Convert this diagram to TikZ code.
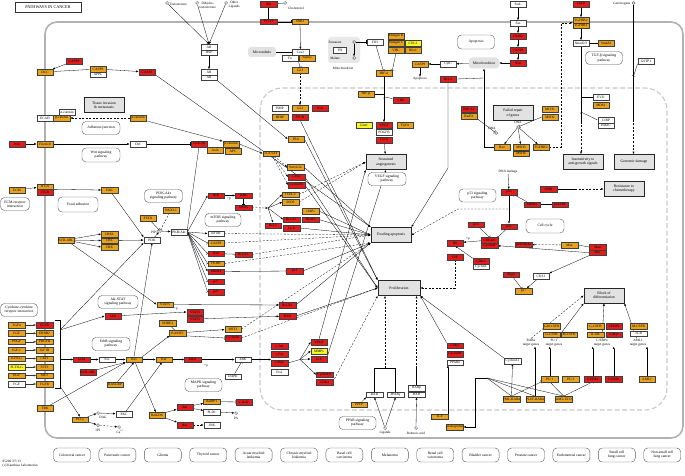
\documentclass[tikz,border=0pt]{standalone}
\usepackage{fontspec}
\setmainfont{Liberation Serif}
\usetikzlibrary{arrows.meta, positioning, calc, backgrounds}
\definecolor{KeggRed}{RGB}{226,28,28}
\definecolor{KeggOrange}{RGB}{232,162,30}
\definecolor{KeggYellow}{RGB}{248,246,40}
\definecolor{CellGrey}{RGB}{178,178,178}
\definecolor{NucGrey}{RGB}{200,200,200}
\definecolor{BoxGrey}{RGB}{226,226,226}

\begin{document}
\begin{tikzpicture}[x=1pt, y=-1pt,
        gene/.style={draw=black!75, line width=0.3pt, minimum width=16.5pt, minimum height=5.4pt, inner sep=0pt, font=\fontsize{3.5}{3.8}\selectfont},
        gr/.style={gene, fill=KeggRed},
        go/.style={gene, fill=KeggOrange},
        gy/.style={gene, fill=KeggYellow},
        gw/.style={gene, fill=white},
        pheno/.style={draw=black!85, line width=0.9pt, fill=BoxGrey, minimum width=40pt, minimum height=15pt, inner sep=0pt, align=center, font=\fontsize{3.8}{4.3}\selectfont},
        pmap/.style={draw=black!65, line width=0.4pt, fill=white, rounded corners=4pt, minimum width=38pt, minimum height=13pt, inner sep=0pt, align=center, font=\fontsize{3.7}{4.2}\selectfont},
        organelle/.style={fill=BoxGrey, rounded corners=3pt, inner sep=0pt, font=\fontsize{3.7}{4.2}\selectfont},
        cpd/.style={circle, draw=black!80, line width=0.35pt, fill=white, inner sep=0pt, minimum size=3pt},
        lbl/.style={inner sep=0.5pt, align=center, font=\fontsize{3.4}{3.8}\selectfont},
        act/.style={-{Latex[length=2.4pt,width=2pt]}, line width=0.3pt},
        inh/.style={-{Bar[width=3.5pt]}, line width=0.3pt},
        dact/.style={act, dash pattern=on 2pt off 1.5pt},
        link/.style={line width=0.3pt}
    ]
    \useasboundingbox (0,0) rectangle (685,476);
    \begin{scope}[on background layer]
        \draw[CellGrey, line width=1.6pt, rounded corners=12pt] (45,22) rectangle (683,438);
        \draw[NucGrey, line width=1.1pt, dash pattern=on 5pt off 2.5pt, rounded corners=22pt] (260,88) rectangle (667,410);
        \node[organelle, fill=BoxGrey!80, minimum width=32pt, minimum height=26pt] (mitoa) at (344,50) {};
    \end{scope}

    \node[draw=black!80, line width=0.8pt, minimum width=66pt, minimum height=9.5pt, inner sep=0pt, font=\fontsize{4.2}{4.7}\selectfont] (title) at (48,7.5) {PATHWAYS IN CANCER};
    \node[lbl, align=left, anchor=north west] (copyr) at (2,460) {05200 3/7/13\\(c) Kanehisa Laboratories};

    \node[cpd] (testo) at (167,3) {};
    \node[lbl, anchor=west] (testolbl) at (169,4.5) {Testosterone};
    \node[cpd] (dht) at (197,3) {};
    \node[lbl, anchor=west] (dhtlbl) at (199,5) {Dihydro-\\testosterone};
    \node[cpd] (oligand) at (226,3) {};
    \node[lbl, anchor=west] (oliglbl) at (228,5) {Other\\Ligands};
    \node[gw] (arhsp) at (209,47) {AR};
    \node[gw, below=0pt of arhsp] (hsp) {HSP};
    \node[gw] (arda) at (209,72) {AR};
    \node[gw, below=0pt of arda] (ardb) {AR};

    \node[go] (dcc) at (45,72) {DCC};
    \node[gr] (casp9a) at (74,61) {CASP9};
    \node[go] (dccp) at (98,69) {CASP9};
    \node[gw, below=0pt of dccp] (appl) {APPL};
    \node[gr] (casp3) at (147,72) {CASP3};
    \node[pheno] (invasion) at (104,105) {Tissue invasion\\\& metastasis};
    \node[gw] (acat) at (67,112) {α-catenin};
    \node[gw] (ecad) at (45,118) {ECAD};
    \node[go, right=0pt of ecad] (bcata) {β-catenin};
    \node[go] (bcatb) at (138,118) {β-catenin};
    \node[pmap] (adherens) at (101,128) {Adherens junction};
    \node[gr] (wnt) at (17,144) {Wnt};
    \node[go] (fzd) at (45,144) {Frizzled};
    \node[gw] (dvl) at (138,144) {Dvl};
    \node[pmap, minimum height=14pt] (wntpath) at (101,155) {Wnt signaling\\pathway};
    \node[gr] (gsk) at (199,144) {GSK-3β};
    \node[go] (axin) at (215,150) {Axin};
    \node[go] (bcatc) at (231,144) {β-catenin};
    \node[go] (apc) at (233,151) {APC};

    \node[go] (ecm) at (17,190) {ECM};
    \node[go] (itga) at (45,186.5) {ITGA};
    \node[gr, below=0pt of itga] (itgb) {ITGB};
    \node[go] (fak) at (109.5,190) {FAK};
    \node[pmap, minimum width=29pt] (ecmrec) at (15,204) {ECM-receptor\\interaction};
    \node[pmap, minimum width=40pt, minimum height=15pt] (focal) at (78,204.5) {Focal adhesion};
    \node[pmap] (pi3kpath) at (163.5,196) {PI3K-Akt\\signaling pathway};
    \node[go] (pten) at (148,218) {PTEN};
    \node[go] (nkx) at (171,210) {NKX3.1};
    \node[cpd] (pip3) at (160,231) {};
    \node[lbl, anchor=east] (pip3lbl) at (158.5,232) {PIP3};
    \node[gw] (pi3k) at (152,240) {PI3K};
    \node[go] (crkl) at (109.5,234) {CRKL};
    \node[go] (cbl) at (109.5,240.5) {CBL};
    \node[go] (crk) at (109.5,247) {CRK};
    \node[go] (bcrabl) at (66,240) {BCR-ABL};
    \node[gw] (akt) at (179,232) {PKB/Akt};
    \node[pmap, minimum width=36pt] (mtorpath) at (223,220) {mTOR signaling\\pathway};
    \node[gr] (ikk) at (216,195.5) {IKK};
    \node[gw] (mtor) at (216,233.5) {mTOR};
    \node[go] (casp9c) at (216,243) {CASP9};
    \node[gr] (bad) at (216,253.5) {Bad};
    \node[go] (fkhr) at (216,263.5) {FKHR};
    \node[gr] (mdm2a) at (216,271.5) {MDM2};
    \node[gr] (p27a) at (216,281.5) {p27};
    \node[gr] (p21a) at (216,292) {p21};
    \node[gr] (ikba) at (243.5,195.5) {IκBα};
    \node[gr] (nfkb) at (243.5,207.5) {NFκB};
    \node[gr] (bclxla) at (243.5,254.5) {Bcl-XL};

    \node[pmap, minimum width=40pt] (jakpath) at (118,302) {Jak-STAT\\signaling pathway};
    \node[go] (stat5a) at (165,304.5) {STAT5};
    \node[gr] (jak) at (113,316) {JAK};
    \node[gr] (stat3) at (195,312) {STAT3};
    \node[gr] (stat5b) at (195,319) {STAT5};
    \node[pmap, minimum width=37pt] (cytokine) at (19,310) {Cytokine-cytokine\\receptor interaction};
    \foreach \lig/\lc/\rec/\rc/\yy [count=\i] in {TGFα/KeggOrange/EGFR/KeggRed/325, EGF/KeggOrange/ERBB2/KeggOrange/333.3, PDGF/KeggOrange/PDGFR/KeggOrange/341.7, IGF-1/KeggOrange/IGF1R/KeggOrange/350, KITLG/KeggOrange/c-KIT/KeggOrange/358.5, FLT3LG/KeggYellow/FLT3/KeggOrange/367, HGF/KeggOrange/MET/KeggOrange/375.5, FGF/white/FGFR/KeggOrange/384} {
        \node[gene, fill=\lc] (lig\i) at (16.7,\yy) {\lig};
        \node[gene, fill=\rc] (rec\i) at (44.5,\yy) {\rec};
        \draw[act, black!80] (lig\i) -- (rec\i);
    }
    \node[gr] (grb2) at (81.7,359.5) {Grb2};
    \node[gw] (sos) at (107,359.5) {Sos};
    \node[go] (ras) at (134,359.5) {Ras};
    \node[go] (raf) at (164,359.5) {Raf};
    \node[gr] (mek) at (192.7,359.5) {MEK};
    \node[pmap] (erbbpath) at (111,344) {ErbB signaling\\pathway};
    \node[go] (nore1) at (167.7,323.3) {NORE1};
    \node[go] (rassf1) at (177.7,333) {RASSF1};
    \node[go] (mst1) at (233,329) {MST1};
    \node[gr] (cycd1c) at (233,338) {CyclinD1};
    \node[gr] (bcrabl2) at (88,372) {BCR-ABL};
    \node[go] (rasgrp) at (115,384.5) {RASGRP};
    \node[go] (trk) at (45,408) {TRK};
    \node[go] (plcg) at (80,419.5) {PLCγ};
    \node[cpd] (dag) at (98,413) {};
    \node[lbl] (daglbl) at (103,417.5) {DAG};
    \node[cpd] (ip3) at (98,425) {};
    \node[lbl] (ip3lbl) at (98,430) {IP3};
    \node[gw] (pkc) at (124,414) {PKC};
    \node[cpd] (ca) at (119,427) {};
    \node[lbl] (calbl) at (120,432) {Ca\textsuperscript{2+}};
    \node[pmap, minimum width=37pt] (mapkpath) at (203.5,385) {MAPK signaling\\pathway};
    \node[go] (ralgds) at (157,415) {RalGDS};
    \node[gr] (ral) at (185,407) {Ral};
    \node[go] (ralbp1) at (211.7,401.7) {RalBP1};
    \node[gw] (pld1) at (211.7,412) {PLD1};
    \node[gr] (rac) at (185,425) {Rac};
    \node[gw] (jnk) at (212,425) {JNK};
    \node[gr] (cdc42) at (244,402) {Cdc42};
    \node[cpd] (pa) at (236,413) {};
    \node[lbl] (palbl) at (236,418) {PA};
    \node[gw] (erk) at (243,359.5) {ERK};
    \node[gw] (dapk) at (233,376.5) {DAPK};

    \node[gr] (bclxlb) at (287.5,305) {Bcl-XL};
    \node[gr] (pim1) at (287.5,316) {PIM1};
    \node[gr] (tx1) at (279.5,346) {c-Jun};
    \node[gr] (tx2) at (279.5,354) {c-Fos};
    \node[gr] (tx3) at (279.5,363) {c-Myc};
    \node[gw] (tx4) at (279.5,372) {Ets1};
    \node[gr] (vegfb) at (319,342) {VEGF};
    \node[gy] (mmps) at (319,351) {MMPs};
    \node[gr] (il8) at (319,359) {IL8};
    \node[gr] (cycd1d) at (324.5,374.7) {CyclinD1};
    \node[gr] (cdk4b) at (324.5,382) {CDK4};

    \node[go] (ppfp) at (359,404.5) {PPFP};
    \node[gw] (rxra) at (374.5,394.5) {RXR};
    \node[gw] (pparg) at (395.5,394.5) {PPARγ};
    \node[pmap, minimum width=37pt] (pparpath) at (357.5,423) {PPAR signaling\\pathway};
    \node[cpd] (ligands) at (385,428) {};
    \node[lbl] (ligandslbl) at (385,433) {Ligands};
    \node[gw] (rarb) at (416.5,388) {RARβ};
    \node[gw] (rxrb) at (416.5,394.5) {RXR};
    \node[cpd] (retacid) at (416,428) {};
    \node[lbl] (retacidlbl) at (416,433) {Retinoic acid};
    \node[go] (tcf2) at (439.5,416.5) {TCF};
    \node[go] (plako) at (455,427) {plakoglobin};
    \node[gr] (cmycc) at (455,345.5) {c-Myc};
    \node[gr] (cycd1e) at (455,354) {CyclinD1};
    \node[gw] (ppard) at (455,362.5) {PPARδ};

    \node[gw] (cyca1) at (512.5,361) {CyclinA1};
    \node[go] (pmlrar) at (511.5,399) {PML-RARα};
    \node[go] (plzfrar) at (535,399) {PLZF-RARα};
    \node[go] (amleto) at (563.7,399) {AML-ETO};
    \node[go] (pu1a) at (549.7,379) {PU.1};
    \node[go] (pu1b) at (570.7,379) {PU.1};
    \node[gr] (cebpa) at (592.7,379) {C/EBPα};
    \node[gr] (cebpb) at (613.7,379) {C/EBPα};
    \node[go] (aml1) at (647,379) {AML1};
    \node[go] (gmcsfr) at (551.7,326) {GM-CSFR};
    \node[go] (gcsfr) at (551.7,334.5) {G-CSFR};
    \node[go] (mcsfr) at (569,334.5) {M-CSFR};
    \node[go] (gcsfrb) at (595.5,326) {G-CSFR};
    \node[gr] (cebpe) at (614.3,326) {CEBPE};
    \node[go] (il6r) at (595.5,334.5) {IL-6R};
    \node[gr] (cmycd) at (614.3,334.5) {c-Myc};
    \node[go] (mcsfrb) at (638.5,326) {M-CSFR};
    \node[gw] (tcr) at (638.5,333.7) {TCR};
    \node[lbl] (rarlbl) at (531,342.5) {RARα\\target genes};
    \node[lbl] (pu1lbl) at (554,342.5) {PU.1\\target genes};
    \node[lbl] (cebplbl) at (602,342.5) {C/EBPα\\target genes};
    \node[lbl] (aml1lbl) at (638,342.5) {AML1\\target genes};
    \node[pheno] (block) at (604,295.5) {Block of\\differentiation};

    \node[lbl] (dnadmg) at (508,172) {DNA damage};
    \node[gr] (p53b) at (509,192) {p53};
    \node[gr] (mdm2b) at (532,204.5) {MDM2};
    \node[gr] (p14arf) at (560,204.5) {p14ARF};
    \node[gr] (mdr) at (548.5,189) {MDR};
    \node[pheno] (resist) at (624,189) {Resistance to\\chemotherapy};
    \node[pmap, minimum width=37pt] (p53path) at (477.5,195.5) {p53 signaling\\pathway};
    \node[gr] (p21b) at (509,226.5) {p21};
    \node[gr] (p15) at (476,224.5) {p15};
    \node[gr] (cdk46) at (489.5,240) {CDK4/6};
    \node[gr, below=0pt of cdk46] (cycd) {CyclinD};
    \node[pmap, minimum height=14pt] (cellcycle) at (545,226) {Cell cycle};
    \node[gr] (p16) at (523.5,244.5) {p16INK4a};
    \node[go] (max) at (569.5,245) {Max};
    \node[gr] (mad) at (597.5,247) {Mad};
    \node[gr, below=0pt of mad] (mxi) {Mxi};
    \node[gr] (cdk2) at (481,261) {CDK2};
    \node[gw, below=0pt of cdk2] (cyce) {CyclinE};
    \node[gr] (skp2) at (511,274.5) {Skp2};
    \node[gw] (cks1) at (541,276) {CKS1};
    \node[go] (p27b) at (523.5,291) {p27};
    \node[gr] (rb) at (455,243) {Rb};
    \node[gr] (e2f) at (455,257) {E2F};

    \node[gr] (shh) at (268.5,4) {Shh};
    \node[cpd] (chol) at (285,3) {};
    \node[lbl] (chollbl) at (296,8) {Cholesterol};
    \node[gr] (ptch) at (268.5,21.7) {PTCH};
    \node[go] (smo) at (300,21.7) {SMO};
    \node[organelle, minimum width=28pt, minimum height=10pt] (microtub) at (262,52) {Microtubule};
    \node[gw] (cos2) at (300.5,52) {Cos2};
    \node[gw] (fu) at (290,58) {Fu};
    \node[go] (sufu) at (307,58) {Su(fu)};
    \node[go] (gli) at (300,70) {GLI};
    \node[gw] (bmp) at (280,108) {BMP};
    \node[go] (glib) at (300,108) {GLI};
    \node[gr] (wnt2) at (320,108) {Wnt};
    \node[go] (hhip) at (280,117) {HHIP};
    \node[gr] (ptch2) at (300,117) {PTCH};

    \node[lbl] (fumlbl) at (335,42) {Fumarate};
    \node[cpd] (fum) at (354,42) {};
    \node[gw, minimum width=13pt] (fh) at (340,50) {FH};
    \node[lbl] (mallbl) at (335,58) {Malate};
    \node[cpd] (mal) at (354,58) {};
    \node[lbl] (mitoalbl) at (343,68) {Mitochondrion};
    \node[gw] (fih) at (375,42) {FIH};
    \node[go] (elob) at (396,36) {Elongin B};
    \node[go] (eloc) at (396,43) {Elongin C};
    \node[go] (vhl) at (396,50) {VHL};
    \node[gy] (cul2) at (413,43) {CUL2};
    \node[go] (rbx1) at (413,50) {Rbx1};
    \node[go] (hif) at (384,73) {HIF-α};
    \node[go] (hifb) at (366,94) {HIF-β};
    \node[gr] (cbp) at (401,100) {CBP};
    \node[gy] (glut1) at (364,125) {Glut1};
    \node[gr] (vegfa) at (384,125) {VEGF};
    \node[go] (tgfa) at (405,125) {TGFα};
    \node[gw] (pdgfb) at (384,132) {PDGFB};
    \node[gr] (tgfba) at (384,140) {TGFβ};

    \node[go] (casp9b) at (420,64) {CASP9};
    \node[gw] (cytc) at (448,64) {CytC};
    \node[lbl] (apoptlbl) at (420,79) {Apoptosis};
    \node[gr] (bcl2a) at (448,79) {Bcl-2};
    \node[organelle, minimum width=30pt, minimum height=11pt] (mito2) at (484,63) {Mitochondrion};
    \node[pmap, minimum width=37pt, minimum height=14pt] (apoptosis) at (476,42) {Apoptosis};
    \node[gw] (fasl) at (518,4) {FasL};
    \node[gw] (fas) at (518,23) {Fas};
    \node[gr] (fadd) at (518,36) {FADD};
    \node[gr] (casp8) at (518,50) {CASP8};
    \node[gr] (bid) at (518,63) {Bid};

    \node[gr] (tgfb2) at (581,4) {TGFβ};
    \node[go] (tgfbr2) at (581,20) {TGFBR2};
    \node[go, below=0pt of tgfbr2] (tgfbr1) {TGFBR1};
    \node[gw] (smad23) at (581,43) {Smad2/3};
    \node[go] (smad4) at (606,43) {Smad4};
    \node[pmap, minimum width=37pt] (tgfpmap) at (604,58) {TGF-β signaling\\pathway};
    \node[lbl, anchor=east] (carclbl) at (631,3.5) {Carcinogens};
    \node[cpd] (carc) at (633.5,3) {};
    \node[gw] (gstp1) at (646,61) {GSTP1};
    \node[gw] (evi1) at (601,97) {EVI1};
    \node[go] (mds1) at (601,105) {MDS1};
    \node[gw] (ctbp) at (606,120) {CtBP};
    \node[gw, below=0pt of ctbp] (hdac) {HDAC};

    \node[gr] (brca2) at (469,109) {BRCA2};
    \node[go] (rad51) at (469,116) {Rad51};
    \node[pheno] (failed) at (513,113) {Failed repair\\of genes};
    \node[go] (mlh1) at (550,109) {MLH1};
    \node[go] (msh2) at (550,117) {MSH2};
    \node[cpd] (dna1) at (496,133) {};
    \node[lbl] (dna1lbl) at (492,128.5) {DNA};
    \node[cpd] (dna2) at (518,127) {};
    \node[lbl] (dna2lbl) at (518,122.5) {DNA};
    \node[go] (bax) at (502,147) {Bax};
    \node[go] (msh3) at (521,147) {MSH3};
    \node[go] (tgfbr2b) at (541,147) {TGFBR2};
    \node[go] (msh6) at (521,153.5) {MSH6};

    \node[pheno] (insens) at (583,162) {Insensitivity to\\anti-growth signals};
    \node[pheno] (genomic) at (634,162) {Genomic damage};
    \node[pheno] (angio) at (386,162) {Sustained\\angiogenesis};
    \node[pmap] (vegfpath) at (387,179) {VEGF signaling\\pathway};
    \node[pheno] (evade) at (391,235) {Evading apoptosis};
    \node[pheno, minimum width=42pt] (prolif) at (399,288) {Proliferation};

    \node[go] (psa) at (296,139) {PSA};
    \node[go] (tcflef) at (271,153.5) {TCF/LEF};
    \node[go] (survivin) at (295.5,167) {Survivin};
    \node[gr] (cmyca) at (296.5,177) {c-Myc};
    \node[gr] (cycd1a) at (296.5,185) {CyclinD1};
    \node[go] (cox2) at (290.5,194.5) {COX-2};
    \node[go] (inos) at (290.5,202) {iNOS};
    \node[go] (ciaps) at (310.5,211) {cIAPs};
    \node[gr] (bclxlc) at (291.5,219.5) {Bcl-XL};
    \node[gr] (trafs) at (310.5,219.5) {TRAFs};
    \node[gr] (bcl2b) at (273,225.5) {Bcl-2};
    \node[gr] (il8b) at (291.5,228) {IL-8};
    \node[gr] (p53a) at (294.5,271) {p53};

    \foreach \nm [count=\i from 0] in {Colorectal cancer, Pancreatic cancer, Glioma, Thyroid cancer, {Acute myeloid\\leukemia}, {Chronic myeloid\\leukemia}, {Basal cell\\carcinoma}, Melanoma, {Renal cell\\carcinoma}, Bladder cancer, Prostate cancer, Endometrial cancer, {Small cell\\lung cancer}, {Non-small cell\\lung cancer}} {
        \node[pmap, minimum width=37pt, minimum height=14pt] (cancer\i) at ({72+45.4*\i},455) {\nm};
    }

    \node[lbl] (plus1) at (229,199) {+p};
    \node[lbl] (plus2) at (176,309) {+p};
    \node[lbl] (plus3) at (206,366) {+p};
    \node[lbl] (plus4) at (468,239) {+p};

    \coordinate (brkt) at (60,330);
    \coordinate (brk) at (60,359.5);
    \coordinate (brkb) at (60,386);
    \coordinate (nfkbj) at (268,208);
    \coordinate (apj) at (300,359.5);
    \coordinate (pparj) at (385,368);
    \coordinate (rarj) at (416.5,368);
    \coordinate (plkj) at (487,378);
    \coordinate (smadj) at (581,122);
    \coordinate (evij) at (581,97);
    \coordinate (ctbj) at (581,112);
    \coordinate (carcj) at (633.5,120);
    \coordinate (gstj) at (633.5,76);
    \coordinate (baxj) at (484,78);
    \coordinate (bcl2j) at (448,168);
    \coordinate (tgfdash) at (561,147);
    \coordinate (p53dj) at (508,209);
    \coordinate (p53dk) at (458,209);
    \coordinate (mdrj) at (575,189);
    \coordinate (hifj) at (384,97);

    \begin{scope}[on background layer, black!78]
        \draw[link] (55,320) -- (60,320) -- (60,388) -- (55,388);
        \draw[act] (testo) -- (arhsp.north);
        \draw[act] (dht) -- (arhsp.north);
        \draw[act] (oligand) -- (arhsp.north);
        \draw[act] (hsp) -- (arda);
        \draw[act] (ardb.south east) -- (psa.west);
        \draw[act] (casp9a) -- (dcc);
        \draw[link] (dcc) -- (dccp);
        \draw[act] (dccp) -- (casp3);
        \draw[act] (casp3.south east) -- (evade.north west);
        \draw[dact] (bcatb) -- (bcata);
        \draw[act] (bcatb.south east) -- (bcatc.north west);
        \draw[act] (wnt) -- (fzd);
        \draw[act] (fzd) -- (dvl);
        \draw[inh] (dvl) -- (gsk);
        \draw[act] (bcatc.east) -- (tcflef.west);
        \draw[inh] (akt.north east) -- (gsk.south);

        \draw[inh] (shh) -- (ptch);
        \draw[link] (chol) -- (shh);
        \draw[inh] (ptch) -- (smo);
        \draw[act] (smo) -- (cos2);
        \draw[inh] (microtub) -- (cos2);
        \draw[inh] (fu.south east) -- (gli.north);
        \draw[dact] (gli) -- (glib);
        \draw[act] (ptch2.south) -- (prolif.north west);

        \draw[inh] (fum) -- (fih);
        \draw[act] (fum) -- (mal);
        \draw[inh] (fih) -- (hif);
        \draw[inh] (vhl.south) -- (hif.north east);
        \draw[act] (hif) -- (vegfa);
        \draw[link] (hifb) -- (hifb -| hif);
        \draw[inh] (cbp) -- (hifj);
        \draw[act] (tgfba) -- (angio);

        \draw[act] (fasl) -- (fas);
        \draw[act] (fas) -- (fadd);
        \draw[act] (fadd) -- (casp8);
        \draw[act] (casp8) -- (bid);
        \draw[act] (bid) -- (mito2);
        \draw[act] (mito2) -- (cytc);
        \draw[act] (cytc) -- (casp9b);
        \draw[act] (casp9b) -- (apoptlbl);
        \draw[act] (bax.west) -| (mito2.south);
        \draw[inh] (baxj) -- (bcl2a.east);
        \draw[act] (bcl2a.south) -- (bcl2j) -- (evade.north east);

        \draw[act] (tgfb2) -- (tgfbr2);
        \draw[act] (tgfbr1) -- (smad23);
        \draw[link] (smad4) -- (smad23);
        \draw[link] (smad23) -- (smadj);
        \draw[dact] (smadj) -- (insens.north -| smadj);
        \draw[inh] (evi1) -- (evij);
        \draw[inh] (ctbp.west) -- (ctbj);
        \draw[dact] (tgfbr2b.east) -- (tgfdash) |- (tgfbr2.south west);
        \draw[link] (carc) -- (carcj);
        \draw[dact] (carcj) -- (genomic.north -| carcj);
        \draw[inh] (gstp1.south west) -- (gstj);

        \draw[inh] (rad51.south east) -- (dna1);
        \draw[inh] (msh2.west) -- (dna2);
        \draw[act] (dna2) -- (bax);
        \draw[act] (dna2) -- (msh3);
        \draw[act] (dna2) -- (tgfbr2b);

        \draw[act] (dnadmg) -- (p53b);
        \draw[inh] (mdm2b) -- (p53b);
        \draw[inh] (p14arf) -- (mdm2b);
        \draw[act] (p53b) -- (p21b);
        \draw[link] (mdr) -- (mdrj);
        \draw[dact] (mdrj) -- (resist);
        \draw[inh] (p21b) -- (cdk46.north east);
        \draw[inh] (p15) -- (cdk46.north);
        \draw[act] (cdk46) -- (rb);
        \draw[act] (cdk2.north west) -- (rb.south);
        \draw[dact] (max) -- (p16);
        \draw[inh] (mad.west) -- (max.east);
        \draw[act] (mxi.west) -- (cycd.east);
        \draw[act] (mxi.south west) -- (cks1.north east);
        \draw[inh] (skp2) -- (p27b);
        \draw[act] (cks1) -- (p27b);
        \draw[dact] (p53dj) -- (p53dk) -- (evade.east);
        \draw[dact] (e2f.south) |- (prolif.east);

        \draw[act] (pu1a.north) -- (pu1a.north |- pu1lbl.south);
        \draw[act] (cebpa.north) -- (cebpa.north |- cebplbl.south);
        \draw[act] (cebpb.north) -- (cebpb.north |- cebplbl.south);
        \draw[act] (aml1.north) -- (aml1.north |- aml1lbl.south);
        \draw[act] (plzfrar.north) -- (plzfrar.north |- rarlbl.south);
        \draw[act] (pu1lbl) -- (block.south west);
        \draw[act] (cebplbl) -- (block.south);
        \draw[act] (aml1lbl) -- (block.south east);
        \draw[dact] (rarlbl.north) -- (block.west);
        \draw[inh] (amleto.north) -- (pu1a.south);
        \draw[inh] (amleto.north) -- (cebpa.south);
        \draw[inh] (pmlrar.north) -- (pu1a.south west);
        \draw[act] (pmlrar.north) -- (cyca1.south);
        \draw[act] (cyca1.north west) -- (prolif.south east);
        \draw[link] (plkj) -- (pmlrar.north);
        \draw[link] (plkj) -- (plzfrar.north);
        \draw[link] (plkj) -- (amleto.north);
        \draw[act] (plkj) -- (475,378) -- (475,427) -- (plako.east);
        \draw[act] (tcf2.north east) -- (tcf2.north east |- ppard.south);
        \draw[act] (cmycc.north west) -- (prolif.south east);

        \draw[act] (ligands) -- (rxra.south);
        \draw[act] (ligands) -- (pparg.south);
        \draw[act] (ppfp) -- (rxra.south west);
        \draw[link] (rxra.north) |- (pparj);
        \draw[link] (pparg.north) |- (pparj);
        \draw[dact] (pparj) -- (prolif.south -| pparj);
        \draw[act] (retacid) -- (rxrb.south);
        \draw[link] (rarb.north) -- (rarj);
        \draw[dact] (rarj) -- (prolif.south -| rarj);

        \draw[act] (brk) -- (grb2);
        \draw[act] (grb2) -- (sos);
        \draw[act] (sos) -- (ras);
        \draw[act] (ras) -- (raf);
        \draw[act] (raf) -- (mek);
        \draw[act] (mek) -- (erk);
        \draw[act] (ras.north) -- (pi3k.south);
        \draw[act] (brkt) -- (pi3k.south west);
        \draw[act] (brkt) -- (jak.west);
        \draw[act] (brkb) -- (plcg.north);
        \draw[act] (jak) -- (stat3.west);
        \draw[act] (bcrabl) -- (stat5a.west);
        \draw[act] (bcrabl) -- (crkl.west);
        \draw[act] (bcrabl) -- (cbl.west);
        \draw[act] (bcrabl) -- (crk.west);
        \draw[act] (cbl) -- (pi3k);
        \draw[act] (ecm) -- (itga);
        \draw[act] (itgb.north east) -- (fak.west);
        \draw[act] (fak) -- (pi3k.north west);
        \draw[inh] (pten) -- (pip3);
        \draw[act] (pi3k) -- (pip3);
        \draw[act] (pip3) -- (akt);
        \draw[inh, dash pattern=on 2pt off 1.5pt] (nkx) -- (pip3);
        \foreach \t in {ikk, mtor, mdm2a} \draw[act] (akt.east) -- (\t.west);
        \foreach \t in {casp9c, bad, fkhr, p27a, p21a} \draw[inh] (akt.east) -- (\t.west);
        \draw[act] (ikk) -- (ikba);
        \draw[inh] (ikba) -- (nfkb);
        \draw[dact] (nfkb) -- (nfkbj);
        \draw[act] (nfkbj) -- (cox2.west);
        \draw[act] (nfkbj) -- (inos.west);
        \draw[act] (nfkbj) -- (bclxlc.west);
        \draw[act] (nfkbj) -- (bcl2b.north);
        \draw[inh] (bad) -- (bclxla);
        \draw[inh] (mdm2a) -- (p53a);
        \draw[act] (stat5a) -- (bclxlb);
        \draw[act] (stat5b) -- (pim1);
        \draw[act] (ras.north east) -- (rassf1.south west);
        \draw[link] (nore1) -- (rassf1);
        \draw[act] (rassf1) -- (mst1);
        \draw[inh] (rassf1.south east) -- (cycd1c.west);
        \draw[dact] (mst1.east) -- (evade.south west);
        \draw[dact] (cycd1c.east) -- (prolif.west);
        \draw[act] (ras) -- (ralgds);
        \draw[act] (ralgds) -- (ral);
        \draw[act] (ral) -- (ralbp1);
        \draw[act] (ral) -- (pld1);
        \draw[inh] (ralbp1) -- (cdc42);
        \draw[act] (pld1) -- (pa);
        \draw[act] (ralgds) -- (rac);
        \draw[dact] (rac) -- (jnk);
        \draw[act] (plcg) -- (dag);
        \draw[act] (plcg) -- (ip3);
        \draw[act] (dag) -- (pkc);
        \draw[dact] (ip3) -- (ca);
        \draw[act] (pkc) -- (raf);
        \draw[act] (trk) -- (ras.south west);
        \draw[act] (rasgrp) -- (ras.south);
        \draw[act] (bcrabl2) -- (ras.south west);
        \draw[inh] (dapk) -- (erk);
        \draw[act] (erk.east) -- (erk.east -| tx2.west);
        \draw[link] (tx3.east) -- (apj);
        \draw[act] (apj) -- (vegfb.west);
        \draw[act] (apj) -- (mmps.west);
        \draw[act] (apj) -- (il8.west);
        \draw[act] (apj) -- (cycd1d.west);
        \draw[dact] (cdk4b.east) -- (prolif.south west);
        \draw[act] (vegfb.north) -- (angio.south west);
        \draw[act] (il8.north east) -- (angio.south);

        \draw[dact] (mtor.east) -- (evade.west);
        \draw[dact] (casp9c.east) -- (evade.west);
        \draw[dact] (bclxla.east) -- (evade.west);
        \draw[dact] (fkhr.east) -- (evade.south west);
        \draw[act] (ciaps.east) -- (evade.west);
        \draw[act] (trafs.east) -- (evade.west);
        \draw[act] (il8b.east) -- (evade.west);
        \draw[act] (p53a.east) -- (evade.south west);
        \draw[act] (bclxlb.east) -- (evade.south west);
        \draw[act] (survivin.east) -- (evade.north west);
        \draw[act] (cmyca.east) -- (prolif.west);
        \draw[act] (cycd1a.east) -- (prolif.west);
        \draw[act] (pim1.east) -- (prolif.west);
        \draw[act] (psa.east) -- (prolif.north west);
        \draw[dact] (cox2.east) -- (angio.west);
        \draw[dact] (inos.east) -- (angio.west);
        \draw[dact] (tcflef) -- (survivin.west);
        \draw[dact] (tcflef) -- (cmyca.west);
        \draw[dact] (tcflef) -- (cycd1a.west);
    \end{scope}
\end{tikzpicture}
\end{document}
